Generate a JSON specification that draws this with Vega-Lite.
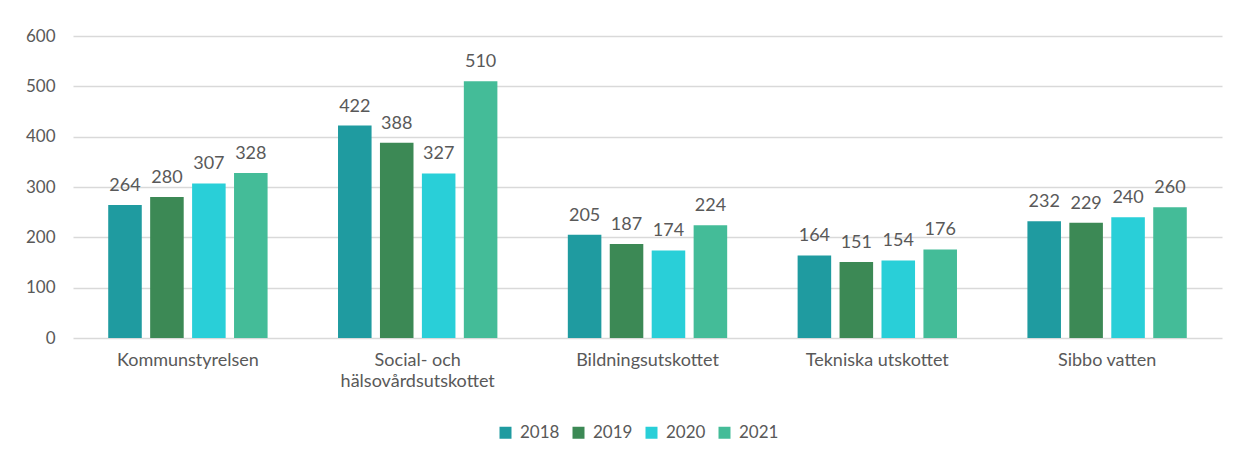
{
  "$schema": "https://vega.github.io/schema/vega-lite/v6.json",
  "width": 1149,
  "height": 302,
  "autosize": {"type": "none"},
  "padding": {"left": 73, "top": 36, "right": 13, "bottom": 117},
  "background": "white",
  "config": {
    "font": "Lato",
    "view": {"stroke": null},
    "axis": {"labelFont": "Lato", "labelColor": "#595959"}
  },
  "data": {
    "values": [
      {"unit": "Kommunstyrelsen", "year": "2018", "value": 264},
      {"unit": "Kommunstyrelsen", "year": "2019", "value": 280},
      {"unit": "Kommunstyrelsen", "year": "2020", "value": 307},
      {"unit": "Kommunstyrelsen", "year": "2021", "value": 328},
      {"unit": "Social- och hälsovårdsutskottet", "year": "2018", "value": 422},
      {"unit": "Social- och hälsovårdsutskottet", "year": "2019", "value": 388},
      {"unit": "Social- och hälsovårdsutskottet", "year": "2020", "value": 327},
      {"unit": "Social- och hälsovårdsutskottet", "year": "2021", "value": 510},
      {"unit": "Bildningsutskottet", "year": "2018", "value": 205},
      {"unit": "Bildningsutskottet", "year": "2019", "value": 187},
      {"unit": "Bildningsutskottet", "year": "2020", "value": 174},
      {"unit": "Bildningsutskottet", "year": "2021", "value": 224},
      {"unit": "Tekniska utskottet", "year": "2018", "value": 164},
      {"unit": "Tekniska utskottet", "year": "2019", "value": 151},
      {"unit": "Tekniska utskottet", "year": "2020", "value": 154},
      {"unit": "Tekniska utskottet", "year": "2021", "value": 176},
      {"unit": "Sibbo vatten", "year": "2018", "value": 232},
      {"unit": "Sibbo vatten", "year": "2019", "value": 229},
      {"unit": "Sibbo vatten", "year": "2020", "value": 240},
      {"unit": "Sibbo vatten", "year": "2021", "value": 260}
    ]
  },
  "encoding": {
    "x": {
      "field": "unit", "type": "nominal", "sort": null,
      "scale": {"paddingInner": 0.27, "paddingOuter": 0.135},
      "axis": {
        "title": null, "labelAngle": 0, "domain": false, "ticks": false,
        "labelPadding": 13, "labelFontSize": 18,
        "labelExpr": "datum.label == 'Social- och hälsovårdsutskottet' ? ['Social- och', 'hälsovårdsutskottet'] : datum.label",
        "labelLineHeight": 21
      }
    },
    "xOffset": {
      "field": "year", "type": "nominal",
      "scale": {"paddingInner": 0.2, "paddingOuter": 0.1}
    },
    "y": {
      "field": "value", "type": "quantitative",
      "scale": {"domain": [0, 600], "nice": false},
      "axis": {
        "title": null, "values": [0, 100, 200, 300, 400, 500, 600],
        "domain": false, "ticks": false, "labelPadding": 18, "labelFontSize": 17,
        "gridColor": "#D9D9D9", "gridWidth": 1.5
      }
    }
  },
  "layer": [
    {
      "mark": {"type": "bar"},
      "encoding": {
        "color": {
          "field": "year", "type": "nominal",
          "scale": {"domain": ["2018", "2019", "2020", "2021"], "range": ["#1F9BA0", "#3C8955", "#29CFD8", "#44BC98"]},
          "legend": {
            "title": null, "orient": "none", "legendX": 424, "legendY": 388,
            "direction": "horizontal", "padding": 0,
            "symbolType": "square", "symbolSize": 144, "symbolStrokeWidth": 0,
            "labelFont": "Lato", "labelFontSize": 17, "labelColor": "#595959",
            "columnPadding": 10, "labelOffset": 6
          }
        }
      }
    },
    {
      "mark": {"type": "text", "baseline": "bottom", "dy": -10, "fontSize": 18, "color": "#595959", "font": "Lato"},
      "encoding": {"text": {"field": "value", "type": "quantitative"}}
    }
  ]
}
